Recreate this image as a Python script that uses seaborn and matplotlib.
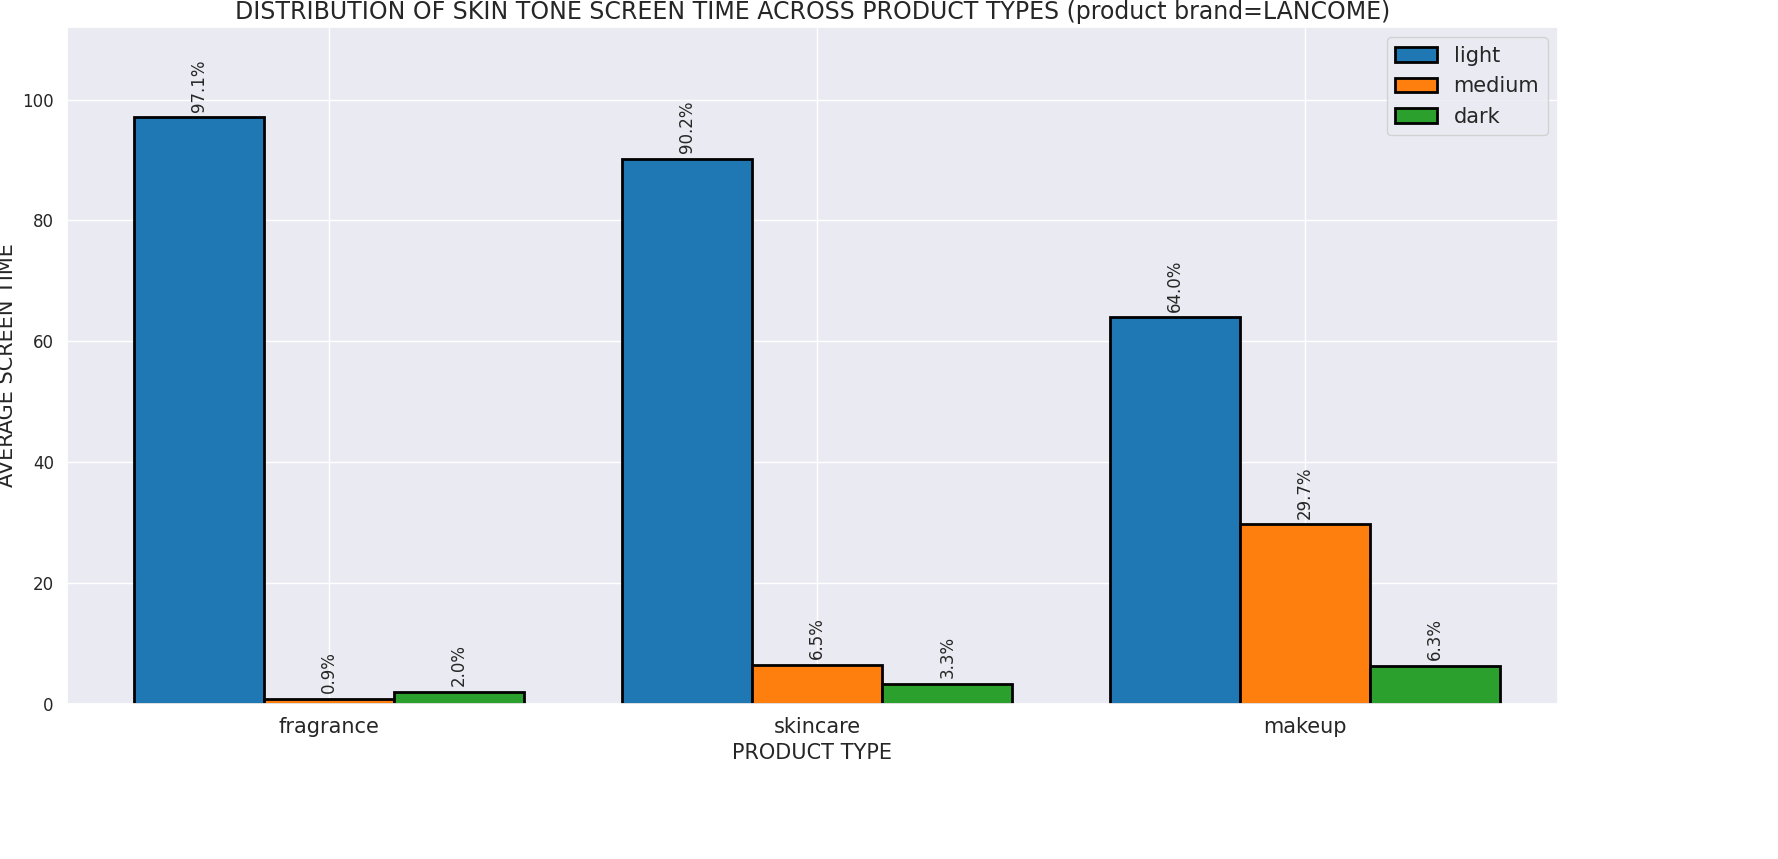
import matplotlib
matplotlib.use("Agg")
import matplotlib.pyplot as plt
import seaborn as sns
import pandas as pd

products = ["fragrance", "skincare", "makeup"]
tones = ["light", "medium", "dark"]
light = [97.1, 90.2, 64.0]
medium = [0.9, 6.5, 29.7]
dark = [2.0, 3.3, 6.3]

df = pd.DataFrame({
    "product": products * 3,
    "tone": ["light"] * 3 + ["medium"] * 3 + ["dark"] * 3,
    "value": light + medium + dark,
})

sns.set_theme(style="darkgrid")
fig = plt.figure(figsize=(17.78, 8.59), dpi=100)
ax = fig.add_axes([67 / 1778, 1 - 704 / 859, (1558 - 67) / 1778, (704 - 27) / 859])
sns.barplot(data=df, x="product", y="value", hue="tone", order=products, hue_order=tones,
            palette=["#1f77b4", "#ff7f0e", "#2ca02c"], width=0.8, gap=0,
            edgecolor="black", linewidth=2, saturation=1, ax=ax, errorbar=None)
for c in ax.containers:
    ax.bar_label(c, labels=[f"{v:.1f}%" for v in c.datavalues], rotation=90, padding=4, fontsize=12)
ax.set_xlim(-0.537, 2.518)
ax.set_ylim(0, 112)
ax.grid(True, axis="both")
ax.set_axisbelow(True)
ax.set_title("DISTRIBUTION OF SKIN TONE SCREEN TIME ACROSS PRODUCT TYPES (product brand=LANCOME)", fontsize=17)
ax.set_xlabel("PRODUCT TYPE", fontsize=15)
ax.set_ylabel("AVERAGE SCREEN TIME", fontsize=15)
ax.tick_params(axis="x", labelsize=15)
ax.tick_params(axis="y", labelsize=12)
ax.legend(title=None, fontsize=15, loc="upper right")
fig.savefig("out.png", dpi=100)
